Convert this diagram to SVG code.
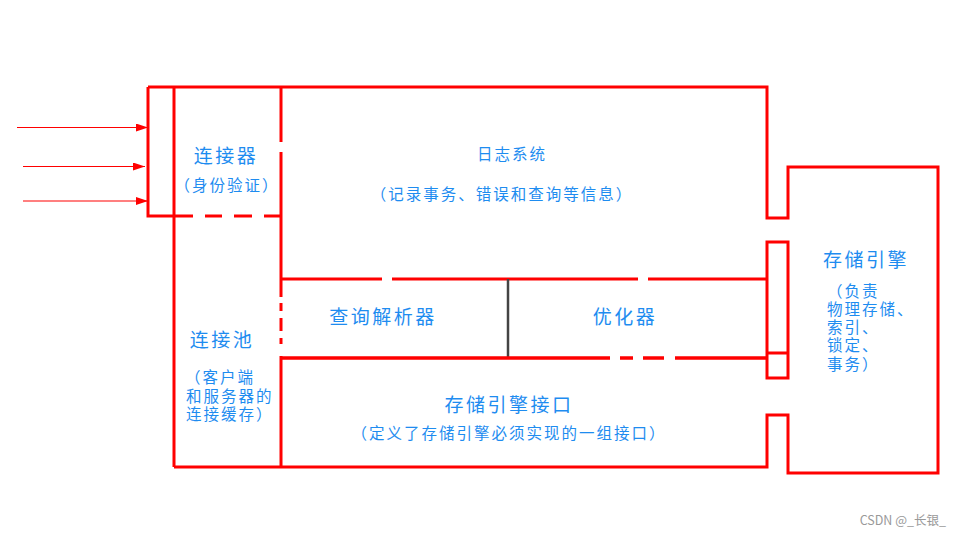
<svg xmlns="http://www.w3.org/2000/svg" width="961" height="536" viewBox="0 0 961 536">
<defs>
<style>
.f{fill:none;stroke:#FF0000;stroke-width:3;stroke-linecap:butt}
.t{font-family:"Noto Sans CJK SC","Noto Sans",sans-serif;fill:#1E8CF0}
.b{font-size:19px;letter-spacing:2.5px}
.s{font-size:15.5px;letter-spacing:2px}
.a{stroke:#FF0000;stroke-width:1.2;fill:none}
</style>
<marker id="ah" markerWidth="12" markerHeight="8" refX="12" refY="4" orient="auto" markerUnits="userSpaceOnUse">
<path d="M0,0 L12,4 L0,8 Z" fill="#FF0000"/>
</marker>
</defs>
<rect width="961" height="536" fill="#FFFFFF"/>

<g id="frame">
<path class="f" d="M148,87 H767 V218 H788 V167 H938 V473 H788 V415 H767 V467 H174"/>
<path class="f" d="M148,87 V216 H174"/>
<path class="f" d="M174,87 V467"/>
</g>

<g id="connector">
<path class="f" d="M174,216 H193 M205,216 H222 M234,216 H252 M264,216 H282"/>
<path class="f" d="M281,87 V142 M281,152 V279"/>
<text class="t b" x="226" y="163" text-anchor="middle">连接器</text>
<text class="t s" x="227" y="191" text-anchor="middle">（身份验证）</text>
</g>

<g id="log-system">
<text class="t s" x="512" y="160" text-anchor="middle">日志系统</text>
<text class="t s" x="502" y="200" text-anchor="middle">（记录事务、错误和查询等信息）</text>
</g>

<g id="connection-pool">
<text class="t b" x="222" y="347" text-anchor="middle">连接池</text>
<text class="t s" x="185" y="383">（客户端</text>
<text class="t s" x="186" y="402">和服务器的</text>
<text class="t s" x="186" y="420">连接缓存）</text>
</g>

<g id="query-parser">
<path class="f" d="M281,279 H382 M392,279 H638 M648,279 H767"/>
<path class="f" d="M281,279 V297 M281,303 V311 M281,318 V331 M281,338 V344 M281,356 V467"/>
<text class="t b" x="383" y="324" text-anchor="middle">查询解析器</text>
</g>

<g id="optimizer">
<path d="M508,279 V358" stroke="#444444" stroke-width="2.5" fill="none"/>
<text class="t b" x="625" y="324" text-anchor="middle">优化器</text>
</g>

<g id="storage-interface">
<path class="f" style="stroke-width:3.5" d="M281,358 H610 M620,358 H633 M643,358 H664 M675,358 H767"/>
<text class="t b" x="509" y="412" text-anchor="middle">存储引擎接口</text>
<text class="t s" x="509" y="439" text-anchor="middle">（定义了存储引擎必须实现的一组接口）</text>
</g>

<g id="storage-engine">
<path class="f" d="M767,242 H788 V378 H767 Z M767,353 H788"/>
<text class="t b" x="866" y="267" text-anchor="middle">存储引擎</text>
<text class="t s" x="827" y="297">（负责</text>
<text class="t s" x="827" y="315">物理存储、</text>
<text class="t s" x="827" y="333">索引、</text>
<text class="t s" x="827" y="351">锁定、</text>
<text class="t s" x="827" y="370">事务）</text>
</g>

<g id="connectors">
<line class="a" x1="17" y1="127.5" x2="148" y2="127.5" marker-end="url(#ah)"/>
<line class="a" x1="23" y1="166.5" x2="145" y2="166.5" marker-end="url(#ah)"/>
<line class="a" x1="23" y1="201" x2="148" y2="201" marker-end="url(#ah)"/>
</g>

<text x="946" y="525" text-anchor="end" font-family="Noto Sans CJK SC, Noto Sans, sans-serif" font-size="12.5" fill="#999999">CSDN @_长银_</text>
</svg>
